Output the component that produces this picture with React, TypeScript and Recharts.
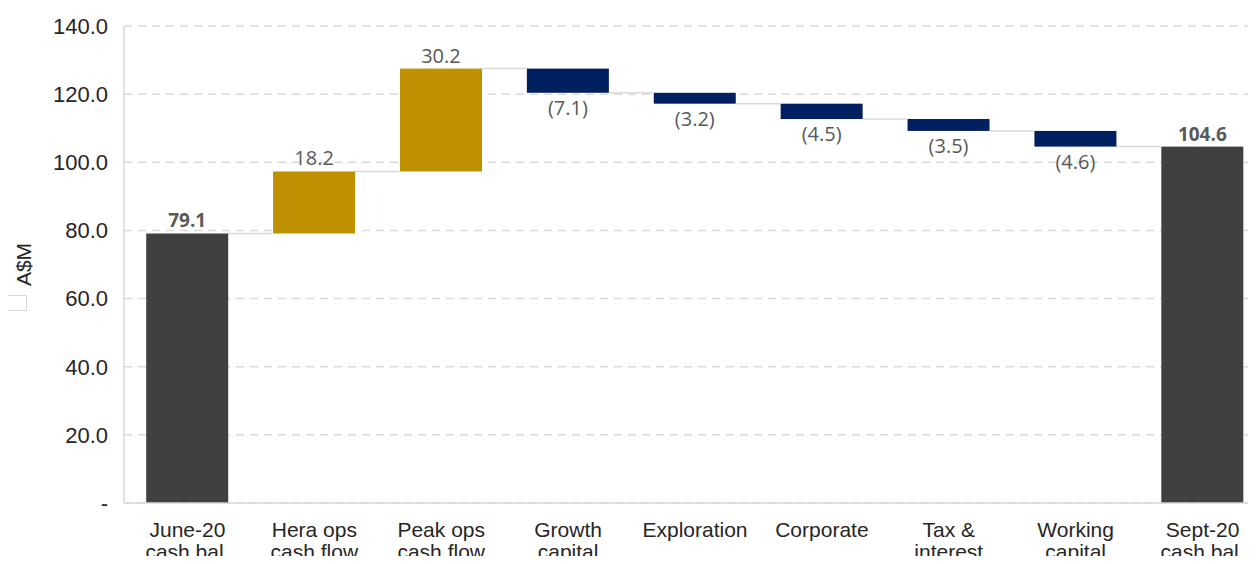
import React from 'react';
import { BarChart, Bar, XAxis, YAxis, CartesianGrid } from 'recharts';

const categories = [
  ['June-20', 'cash bal.'],
  ['Hera ops', 'cash flow'],
  ['Peak ops', 'cash flow'],
  ['Growth', 'capital'],
  ['Exploration'],
  ['Corporate'],
  ['Tax &', 'interest'],
  ['Working', 'capital'],
  ['Sept-20', 'cash bal.']
];
const amounts = [79.1, 18.2, 30.2, -7.1, -3.2, -4.5, -3.5, -4.6, 104.6];
const kinds = ['total', 'up', 'up', 'down', 'down', 'down', 'down', 'down', 'total'];
const yTicks = [0, 20, 40, 60, 80, 100, 120, 140];

const colors: Record<string, string> = { total: '#404040', up: '#BF9000', down: '#002060' };
const GAP = 0.175; // barCategoryGap per side

// build low/high ranges for the waterfall
let running = 0;
const data = amounts.map((v, i) => {
  let low: number, high: number;
  if (kinds[i] === 'total') {
    low = 0;
    high = v;
    running = v;
  } else {
    low = Math.min(running, running + v);
    high = Math.max(running, running + v);
    running += v;
  }
  return { name: categories[i].join(' '), range: [low, high], amount: v, kind: kinds[i] };
});

const axisFont = '"Liberation Sans", Arial, sans-serif';
const labelFont = '"Open Sans", "Noto Sans", sans-serif';

const WaterfallBar = (props: any) => {
  const { x, width, index, payload } = props;
  const top = Math.min(props.y, props.y + props.height);
  const h = Math.abs(props.height);
  const kind = payload.kind;
  const gap = (width * 2 * GAP) / (1 - 2 * GAP);
  const endY = kind === 'down' ? top + h : top;
  const text = kind === 'down' ? `(${Math.abs(payload.amount).toFixed(1)})` : payload.amount.toFixed(1);
  return (
    <g>
      {index < data.length - 1 && (
        <line x1={x + width} x2={x + width + gap} y1={endY} y2={endY} stroke="#d9d9d9" strokeWidth={1.5} />
      )}
      <rect x={x} y={top} width={width} height={h} fill={colors[kind]} />
      <text
        x={x + width / 2}
        y={kind === 'down' ? top + h + 22 : top - 6}
        textAnchor="middle"
        fontFamily={labelFont}
        fontSize={kind === 'total' ? 19 : 20}
        fontWeight={kind === 'total' ? 700 : 400}
        fill="#595959"
      >
        {text}
      </text>
    </g>
  );
};

const CategoryTick = (props: any) => {
  const { x, y, payload } = props;
  const lines = categories[payload.index] || [];
  return (
    <text x={x} y={y} textAnchor="middle" fontFamily={axisFont} fontSize={21} fill="#262626">
      {lines.map((l, i) => (
        <tspan key={i} x={x} dy={i === 0 ? 26 : 22}>
          {l}
        </tspan>
      ))}
    </text>
  );
};

const YLabel = (props: any) => {
  const { viewBox } = props;
  const cx = 23;
  const cy = viewBox.y + viewBox.height / 2;
  return (
    <text
      x={cx}
      y={cy}
      transform={`rotate(-90 ${cx} ${cy})`}
      textAnchor="middle"
      dominantBaseline="central"
      fontFamily={axisFont}
      fontSize={21}
      fill="#262626"
    >
      A$M
    </text>
  );
};

export default function App() {
  return (
    <div style={{ position: 'relative', margin: -8, width: 1256, height: 564, overflow: 'hidden', background: '#fff' }}>
      <div
        style={{
          position: 'absolute',
          left: -5,
          top: 295,
          width: 30,
          height: 14,
          border: '1px solid #d9d9d9'
        }}
      />
      <BarChart
        width={1272}
        height={564}
        data={data}
        margin={{ top: 26, right: 6, left: 0, bottom: 0 }}
        barCategoryGap={`${GAP * 100}%`}
      >
        <CartesianGrid vertical={false} stroke="#d9d9d9" strokeDasharray="8 6" strokeWidth={1.5} />
        <XAxis
          dataKey="name"
          height={61}
          interval={0}
          tickLine={false}
          axisLine={{ stroke: '#d9d9d9', strokeWidth: 1.5 }}
          tick={<CategoryTick />}
        />
        <YAxis
          width={124}
          domain={[0, 140]}
          ticks={yTicks}
          tickLine={false}
          axisLine={{ stroke: '#d9d9d9', strokeWidth: 1.5 }}
          tickMargin={10}
          tickFormatter={(v: number) => (v === 0 ? '-' : v.toFixed(1))}
          tick={{ fontFamily: axisFont, fontSize: 22, fill: '#262626' }}
          label={<YLabel />}
        />
        <Bar dataKey="range" isAnimationActive={false} shape={<WaterfallBar />} />
      </BarChart>
    </div>
  );
}
